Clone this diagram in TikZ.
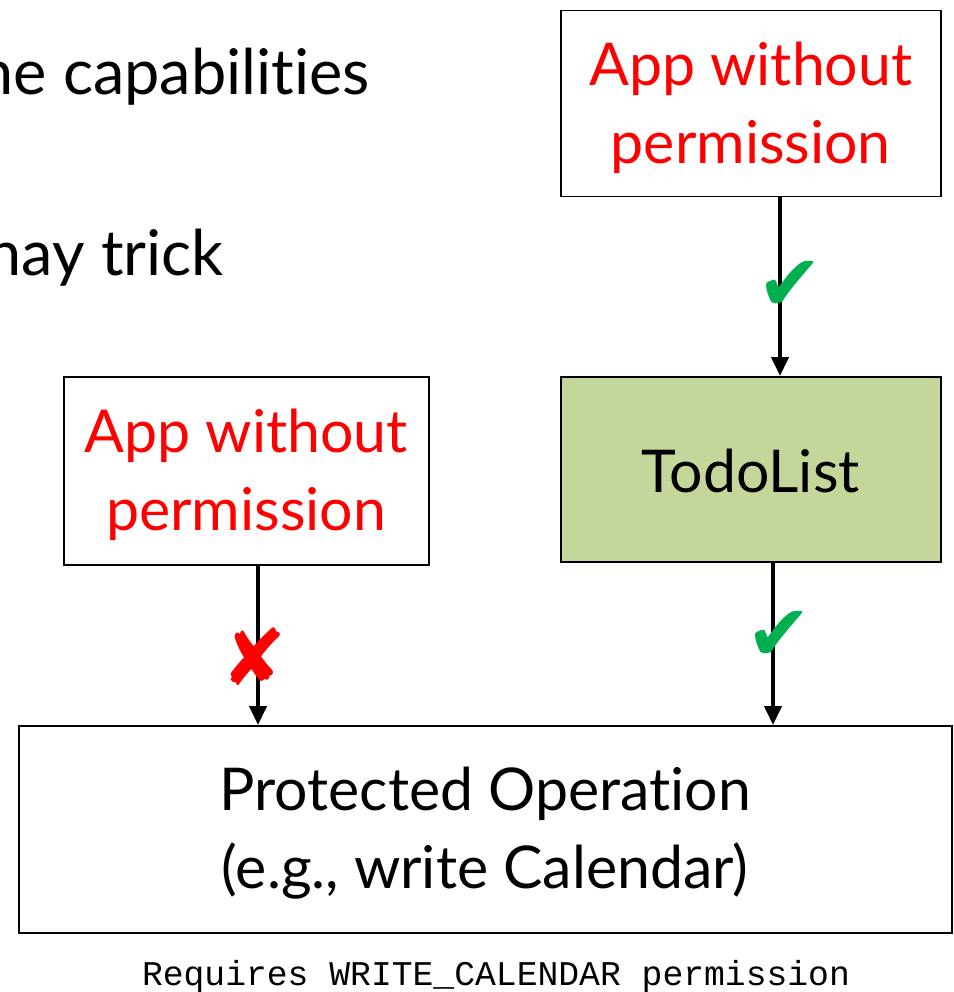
\documentclass[tikz,border=0pt]{standalone}
\usepackage{fontspec}
\setmainfont[Ligatures={NoCommon}]{Lato}
\setmonofont{Liberation Mono}
\newfontfamily\symfont{DejaVu Sans}
\usetikzlibrary{arrows.meta}
\definecolor{okgreen}{RGB}{0,176,80}
\definecolor{todofill}{RGB}{196,215,155}
\tikzset{
  box/.style={draw=black, line width=1.5pt, inner sep=0pt, anchor=north west},
  boxtext/.style={align=center, font=\fontsize{59}{78}\selectfont},
  conn/.style={line width=4pt, -{Triangle[width=17pt,length=19pt]}},
  tickmark/.style={font=\symfont\fontsize{78}{78}\selectfont, inner sep=0pt},
}
\begin{document}
\begin{tikzpicture}[x=1pt,y=-1pt]
\useasboundingbox (0,0) rectangle (953,992);
\clip (0,0) rectangle (953,992);
% clipped slide text
\node[anchor=base east, inner sep=0pt, font=\fontsize{63}{66}\selectfont] (t1) at (370,95) {ne capabilities};
\node[anchor=base east, inner sep=0pt, font=\fontsize{63}{66}\selectfont] (t2) at (224,275) {nay trick};
% boxes
\node[box, minimum width=380pt, minimum height=186pt] (top) at (560,10) {};
\node[boxtext, text=red] (toptext) at ([yshift=-4pt]top.center) {App without\\permission};
\node[box, fill=todofill, minimum width=380pt, minimum height=185pt] (todo) at (560,376) {};
\node[boxtext] (todotext) at ([yshift=-2pt]todo.center) {TodoList};
\node[box, minimum width=365pt, minimum height=188pt] (left) at (63,376) {};
\node[boxtext, text=red] (lefttext) at ([yshift=-4pt]left.center) {App without\\permission};
\node[box, minimum width=933pt, minimum height=207pt] (prot) at (18,725) {};
\node[boxtext] (prottext) at ([yshift=-4pt]prot.center) {Protected Operation\\(e.g., write Calendar)};
\node[anchor=base, inner sep=0pt, font=\ttfamily\fontsize{34.7}{36}\selectfont] (req) at (496,985) {Requires WRITE\_CALENDAR permission};
% connectors
\coordinate (a1) at (780,196);
\coordinate (a1e) at (780,376);
\draw[conn] (a1) -- (a1e);
\coordinate (a2) at (773,561);
\coordinate (a2e) at (773,725);
\draw[conn] (a2) -- (a2e);
\coordinate (a3) at (258,564);
\coordinate (a3e) at (258,725);
\draw[conn] (a3) -- (a3e);
% marks
\node[tickmark, text=okgreen] (chk1) at (790,286) {✔};
\node[tickmark, text=okgreen] (chk2) at (779,636) {✔};
\node[tickmark, text=red] (x1) at (254,657) {✘};
\end{tikzpicture}
\end{document}
